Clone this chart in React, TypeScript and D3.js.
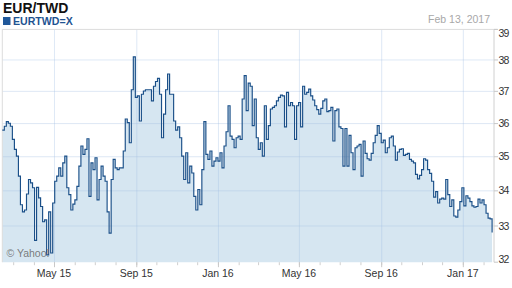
import React from "react";
import * as d3 from "d3";

const TITLE = "EUR/TWD";
const SYMBOL = "EURTWD=X";
const DATE_LABEL = "Feb 13, 2017";
const START_DATE = new Date(2015, 1, 12);
const END_DATE = new Date(2017, 1, 13);
const Y_TICKS = [32, 33, 34, 35, 36, 37, 38, 39];
const MAJOR_MONTHS = [
  new Date(2015, 4, 1),
  new Date(2015, 8, 1),
  new Date(2016, 0, 1),
  new Date(2016, 4, 1),
  new Date(2016, 8, 1),
  new Date(2017, 0, 1),
];
const MAJOR_LABELS = ["May 15", "Sep 15", "Jan 16", "May 16", "Sep 16", "Jan 17"];

// EUR/TWD closing rate, sampled roughly every 3 calendar days
const RATES = [
  35.8, 35.92, 36.06, 36.01, 35.92, 35.52, 35.22, 35.02, 34.43, 33.6,
  33.4, 33.45, 33.91, 34.33, 34.23, 34.09, 32.6, 34.1, 33.8, 33.55,
  33.12, 33.17, 32.2, 33.4, 32.25, 33.65, 34.28, 34.43, 34.67, 34.43,
  34.82, 35.02, 34.09, 33.89, 33.45, 33.62, 33.74, 34.13, 34.72, 35.32,
  35.07, 35.22, 35.54, 33.84, 34.82, 34.62, 34.97, 33.74, 34.33, 34.72,
  34.43, 34.28, 33.4, 32.8, 34.33, 34.92, 34.67, 34.62, 34.67, 34.67,
  35.17, 36.14, 36.03, 35.42, 37.05, 38.1, 36.81, 36.86, 36.08, 36.91,
  37.01, 37.05, 37.05, 37.05, 36.7, 37.16, 37.31, 37.41, 36.91, 35.57,
  36.29, 37.05, 37.55, 36.91, 36.91, 36.08, 35.8, 35.9, 35.57, 35.02,
  34.33, 35.12, 34.23, 34.72, 34.52, 33.84, 33.45, 34.04, 33.6, 34.62,
  36.06, 35.07, 34.92, 35.17, 34.72, 34.87, 34.97, 34.87, 35.12, 34.67,
  35.32, 35.75, 36.55, 35.62, 35.52, 35.27, 35.57, 35.62, 35.52, 36.76,
  37.5, 36.4, 37.26, 37.16, 35.94, 36.76, 35.57, 35.22, 35.42, 35.02,
  36.55, 35.52, 35.94, 36.45, 36.5, 36.55, 36.7, 36.81, 36.88, 36.86,
  35.9, 36.97, 36.55, 36.65, 36.55, 35.52, 36.55, 36.65, 35.9, 37.16,
  36.91, 36.97, 37.07, 36.86, 36.73, 36.55, 36.43, 36.29, 36.47, 36.7,
  36.76, 36.37, 36.4, 36.5, 35.47, 36.4, 36.45, 35.9, 35.85, 34.72,
  35.85, 34.72, 35.64, 35.12, 34.62, 35.27, 35.32, 35.37, 34.43, 35.47,
  35.1, 34.94, 34.9, 35.1, 35.42, 35.64, 35.94, 35.7, 35.42, 35.5,
  35.12, 35.27, 35.57, 35.62, 35.32, 34.9, 35.14, 35.22, 35.24, 35.04,
  35.07, 35.1, 34.92, 34.87, 34.82, 34.48, 34.35, 34.45, 34.62, 34.94,
  34.9, 34.62, 34.51, 34.28, 33.82, 33.98, 33.65, 33.76, 33.79, 33.76,
  34.33, 33.89, 33.55, 33.74, 33.28, 33.25, 33.45, 33.69, 34.09, 33.57,
  33.86, 33.79, 33.69, 33.57, 33.53, 33.55, 33.76, 33.65, 33.74, 33.6,
  33.36, 33.22, 33.2, 32.82,
];

const DATES = RATES.map(
  (_, i) => new Date(+START_DATE + (i * (+END_DATE - +START_DATE)) / (RATES.length - 1))
);

const FONT = "'Liberation Sans', Arial, Helvetica, sans-serif";

export default function App() {
  const left = 2.3;
  const right = 492.1;
  const axisX = 494;
  const top = 29.4;
  const bottom = 262.2;

  const x = d3.scaleTime().domain([START_DATE, END_DATE]).range([left, right]);
  const y = d3.scaleLog().domain([32, 39]).range([bottom, top]);

  const data = RATES.map((v, i) => ({ d: DATES[i], v }));

  const area = d3
    .area<{ d: Date; v: number }>()
    .x((p) => x(p.d))
    .y0(bottom)
    .y1((p) => y(p.v))
    .curve(d3.curveStepAfter);
  const line = d3
    .line<{ d: Date; v: number }>()
    .x((p) => x(p.d))
    .y((p) => y(p.v))
    .curve(d3.curveStepAfter);

  const months = d3.timeMonth.range(new Date(2015, 2, 1), END_DATE);
  const gridColor = "rgba(160,190,225,0.35)";

  return (
    <svg
      width={512}
      height={288}
      style={{ position: "absolute", left: 0, top: 0, background: "#fff" }}
      fontFamily={FONT}
    >
      <text x={3} y={13.3} fontSize={14} fontWeight="bold" fill="#111">
        {TITLE}
      </text>
      <rect x={3} y={17} width={7.5} height={8} fill="#21589a" />
      <text x={13} y={25} fontSize={10.6} fontWeight="bold" fill="#1f5391">
        {SYMBOL}
      </text>
      <text x={490} y={23.3} fontSize={10.5} fill="#a8a8a8" textAnchor="end">
        {DATE_LABEL}
      </text>

      <path d={area(data) || ""} fill="#d6e6f1" />

      {Y_TICKS.filter((t) => t > 32 && t < 39).map((t) => (
        <line key={"h" + t} x1={left} x2={axisX} y1={y(t)} y2={y(t)} stroke={gridColor} strokeWidth={1} />
      ))}
      {MAJOR_MONTHS.map((m, i) => (
        <line key={"v" + i} x1={x(m)} x2={x(m)} y1={top} y2={bottom} stroke={gridColor} strokeWidth={1} />
      ))}

      <line x1={left} x2={497} y1={top} y2={top} stroke="#dcdcdc" strokeWidth={1} />
      <line x1={left} x2={left} y1={top} y2={bottom} stroke="#dcdcdc" strokeWidth={1} />

      <path d={line(data) || ""} fill="none" stroke="#1a4f88" strokeWidth={1.15} />

      <line x1={axisX} x2={axisX} y1={top} y2={bottom} stroke="#d0d0d0" strokeWidth={1} />
      {Y_TICKS.map((t) => {
        const cy = Math.min(259, Math.max(33, y(t)));
        return (
          <g key={"yt" + t}>
            <line x1={axisX} x2={axisX + 4} y1={y(t)} y2={y(t)} stroke="#c8c8c8" />
            <text x={498.5} y={cy + 3.6} fontSize={10.5} fill="#333" letterSpacing={-0.8}>
              {t}
            </text>
          </g>
        );
      })}

      {months.map((m, i) => (
        <line key={"mt" + i} x1={x(m)} x2={x(m)} y1={bottom} y2={bottom + 3} stroke="#cfcfcf" />
      ))}
      {MAJOR_MONTHS.map((m, i) => (
        <g key={"xl" + i}>
          <line x1={x(m)} x2={x(m)} y1={bottom} y2={bottom + 5} stroke="#c8c8c8" />
          <text x={x(m) - 0.5} y={276.7} fontSize={10.5} fill="#333" textAnchor="middle">
            {MAJOR_LABELS[i]}
          </text>
        </g>
      ))}

      <text x={6.5} y={257.3} fontSize={10.5} fill="#666" fillOpacity={0.85}>
        © Yahoo!
      </text>
    </svg>
  );
}
